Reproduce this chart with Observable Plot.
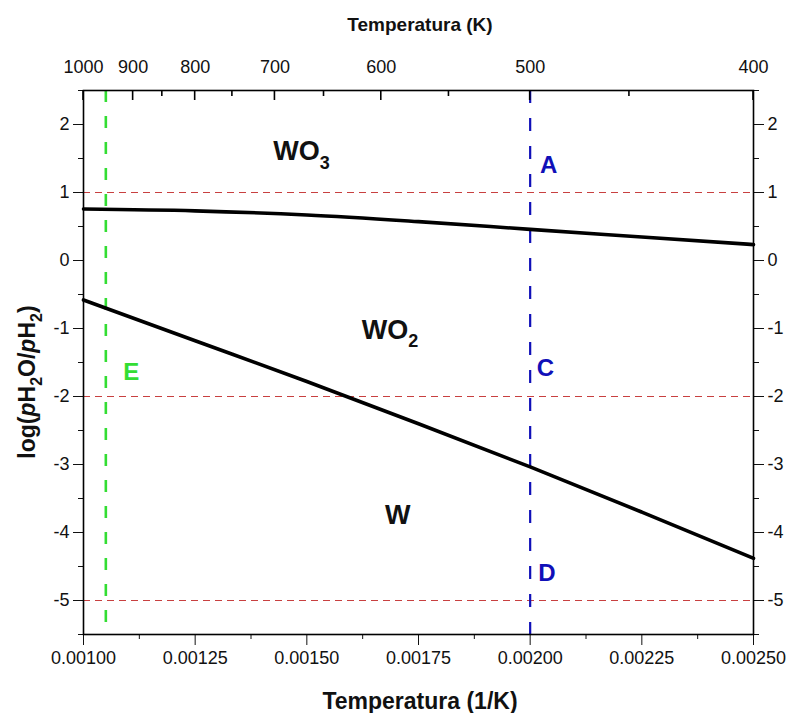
<!DOCTYPE html>
<html>
<head>
<meta charset="utf-8">
<script src="https://cdn.jsdelivr.net/npm/d3@7"></script>
<script src="https://cdn.jsdelivr.net/npm/@observablehq/plot@0.6"></script>
<style>
  body { margin: 0; background: #fff; }
  #chart svg { font-family: "Liberation Sans", Arial, sans-serif; }
</style>
</head>
<body>
<div id="chart"></div>
<script>
// ---- data ----
const invT = [0.001, 0.00125, 0.0015, 0.00175, 0.002, 0.00225, 0.0025];
const wo3wo2 = [0.757, 0.73, 0.67, 0.572, 0.458, 0.346, 0.234];      // WO3/WO2 boundary
const wo2w   = [-0.58, -1.18, -1.78, -2.40, -3.035, -3.70, -4.38];    // WO2/W boundary
const xMajor = [0.001, 0.00125, 0.0015, 0.00175, 0.002, 0.00225, 0.0025];
const xMinor = [0.001125, 0.001375, 0.001625, 0.001875, 0.002125, 0.002375];
const tMajor = [1000, 900, 800, 700, 600, 500, 400];
const tMinor = [850, 750, 650, 550, 450];
const yMajor = [-5, -4, -3, -2, -1, 0, 1, 2];
const yMinor = [-5.5, -4.5, -3.5, -2.5, -1.5, -0.5, 0.5, 1.5, 2.5];
const redLevels = [1, -2, -5];
const greenX = [0.00105];
const blueX = [0.002];
const regions = [
  {name: "WO3", x: 0.001425, y: 1.61},
  {name: "WO2", x: 0.001623, y: -1.02},
  {name: "W",   x: 0.001675, y: -3.75}
];
const points = [
  {name: "A", x: 0.002022, y: 1.40, c: "blue"},
  {name: "C", x: 0.002015, y: -1.58, c: "blue"},
  {name: "D", x: 0.002018, y: -4.60, c: "blue"},
  {name: "E", x: 0.001089, y: -1.64, c: "green"}
];

const lineA = invT.map((x, i) => ({x, y: wo3wo2[i]}));
const lineB = invT.map((x, i) => ({x, y: wo2w[i]}));

const BLUE = "#1010b8", GREEN = "#33dd33", RED = "#c84040";
const H = 713, MT = 90, MB = 79;

const plot = Plot.plot({
  width: 790,
  height: H,
  marginLeft: 83,
  marginRight: 37,
  marginTop: MT,
  marginBottom: MB,
  style: {fontFamily: "Liberation Sans, Arial, sans-serif", fontSize: "18px", color: "#111", background: "#fff"},
  x: {domain: [0.001, 0.0025]},
  y: {domain: [-5.5, 2.5]},
  marks: [
    Plot.ruleY(redLevels, {stroke: RED, strokeWidth: 1, strokeDasharray: "7,5"}),
    Plot.ruleX(greenX, {stroke: GREEN, strokeWidth: 2.6, strokeDasharray: "12,14"}),
    Plot.ruleX(blueX, {stroke: BLUE, strokeWidth: 2.2, strokeDasharray: "13,15"}),
    Plot.line(lineA, {x: "x", y: "y", stroke: "black", strokeWidth: 3.6, curve: "monotone-x"}),
    Plot.line(lineB, {x: "x", y: "y", stroke: "black", strokeWidth: 3.6, curve: "monotone-x"}),
    Plot.text(regions, {x: "x", y: "y", text: "name", textAnchor: "start", fontSize: 27, fontWeight: "bold", fill: "#111"}),
    Plot.text(points, {x: "x", y: "y", text: "name", textAnchor: "start", fontSize: 24, fontWeight: "bold", fill: d => d.c === "blue" ? BLUE : GREEN}),
    // bottom axis
    Plot.axisX({ticks: xMajor, anchor: "bottom", tickSize: 11, tickPadding: 6, tickFormat: d3.format(".5f"), fontSize: 18, label: null}),
    Plot.axisX({ticks: xMinor, anchor: "bottom", tickSize: 5, tickFormat: () => "", label: null}),
    // top axis labels (temperature in K)
    Plot.axisX({ticks: tMajor.map(t => 1 / t), anchor: "top", tickSize: 0, tickPadding: 18, tickFormat: d => String(Math.round(1 / d)), fontSize: 18, label: null}),
    // left and right y axes
    Plot.axisY({ticks: yMajor, anchor: "left", tickSize: 10, tickPadding: 4, fontSize: 18, label: null}),
    Plot.axisY({ticks: yMinor, anchor: "left", tickSize: 5, tickFormat: () => "", label: null}),
    Plot.axisY({ticks: yMajor, anchor: "right", tickSize: 10, tickPadding: 4, fontSize: 18, label: null}),
    Plot.axisY({ticks: yMinor, anchor: "right", tickSize: 5, tickFormat: () => "", label: null}),
    Plot.frame({stroke: "black", strokeWidth: 1.6})
  ]
});

document.getElementById("chart").appendChild(plot);

const svg = d3.select(plot);
const xs = plot.scale("x");

// inward ticks of the top (K) axis, placed with Plot's x scale
const topTicks = svg.append("g").attr("stroke", "black").attr("stroke-width", 1.6);
tMajor.forEach(t => {
  const px = xs.apply(1 / t);
  topTicks.append("line").attr("x1", px).attr("x2", px).attr("y1", MT).attr("y2", MT + 10);
});
tMinor.forEach(t => {
  const px = xs.apply(1 / t);
  topTicks.append("line").attr("x1", px).attr("x2", px).attr("y1", MT).attr("y2", MT + 6);
});

// minus sign as hyphen like the original
svg.selectAll("text").each(function () {
  const t = this.textContent;
  if (/^−\d/.test(t)) this.textContent = t.replace("−", "-");
});
// subscripts for region labels
svg.selectAll("text").each(function () {
  const m = /^WO(\d)$/.exec(this.textContent);
  if (m) {
    const el = d3.select(this);
    el.text("");
    el.append("tspan").text("WO");
    el.append("tspan").attr("font-size", 18).attr("dy", 9).text(m[1]);
  }
});

// axis titles
svg.append("text")
  .attr("x", 420).attr("y", 31)
  .attr("text-anchor", "middle")
  .attr("font-size", 19).attr("font-weight", "bold").attr("fill", "#111")
  .text("Temperatura (K)");

svg.append("text")
  .attr("x", 420).attr("y", 709)
  .attr("text-anchor", "middle")
  .attr("font-size", 23).attr("font-weight", "bold").attr("fill", "#111")
  .text("Temperatura (1/K)");

const yl = svg.append("text")
  .attr("transform", "translate(35,382) rotate(-90)")
  .attr("text-anchor", "middle")
  .attr("font-size", 23).attr("font-weight", "bold").attr("fill", "#111");
yl.append("tspan").text("log(");
yl.append("tspan").attr("font-style", "italic").text("p");
yl.append("tspan").text("H");
yl.append("tspan").attr("font-size", 16).attr("dy", 7).text("2");
yl.append("tspan").attr("dy", -7).text("O/");
yl.append("tspan").attr("font-style", "italic").text("p");
yl.append("tspan").text("H");
yl.append("tspan").attr("font-size", 16).attr("dy", 7).text("2");
yl.append("tspan").attr("dy", -7).text(")");
</script>
</body>
</html>
